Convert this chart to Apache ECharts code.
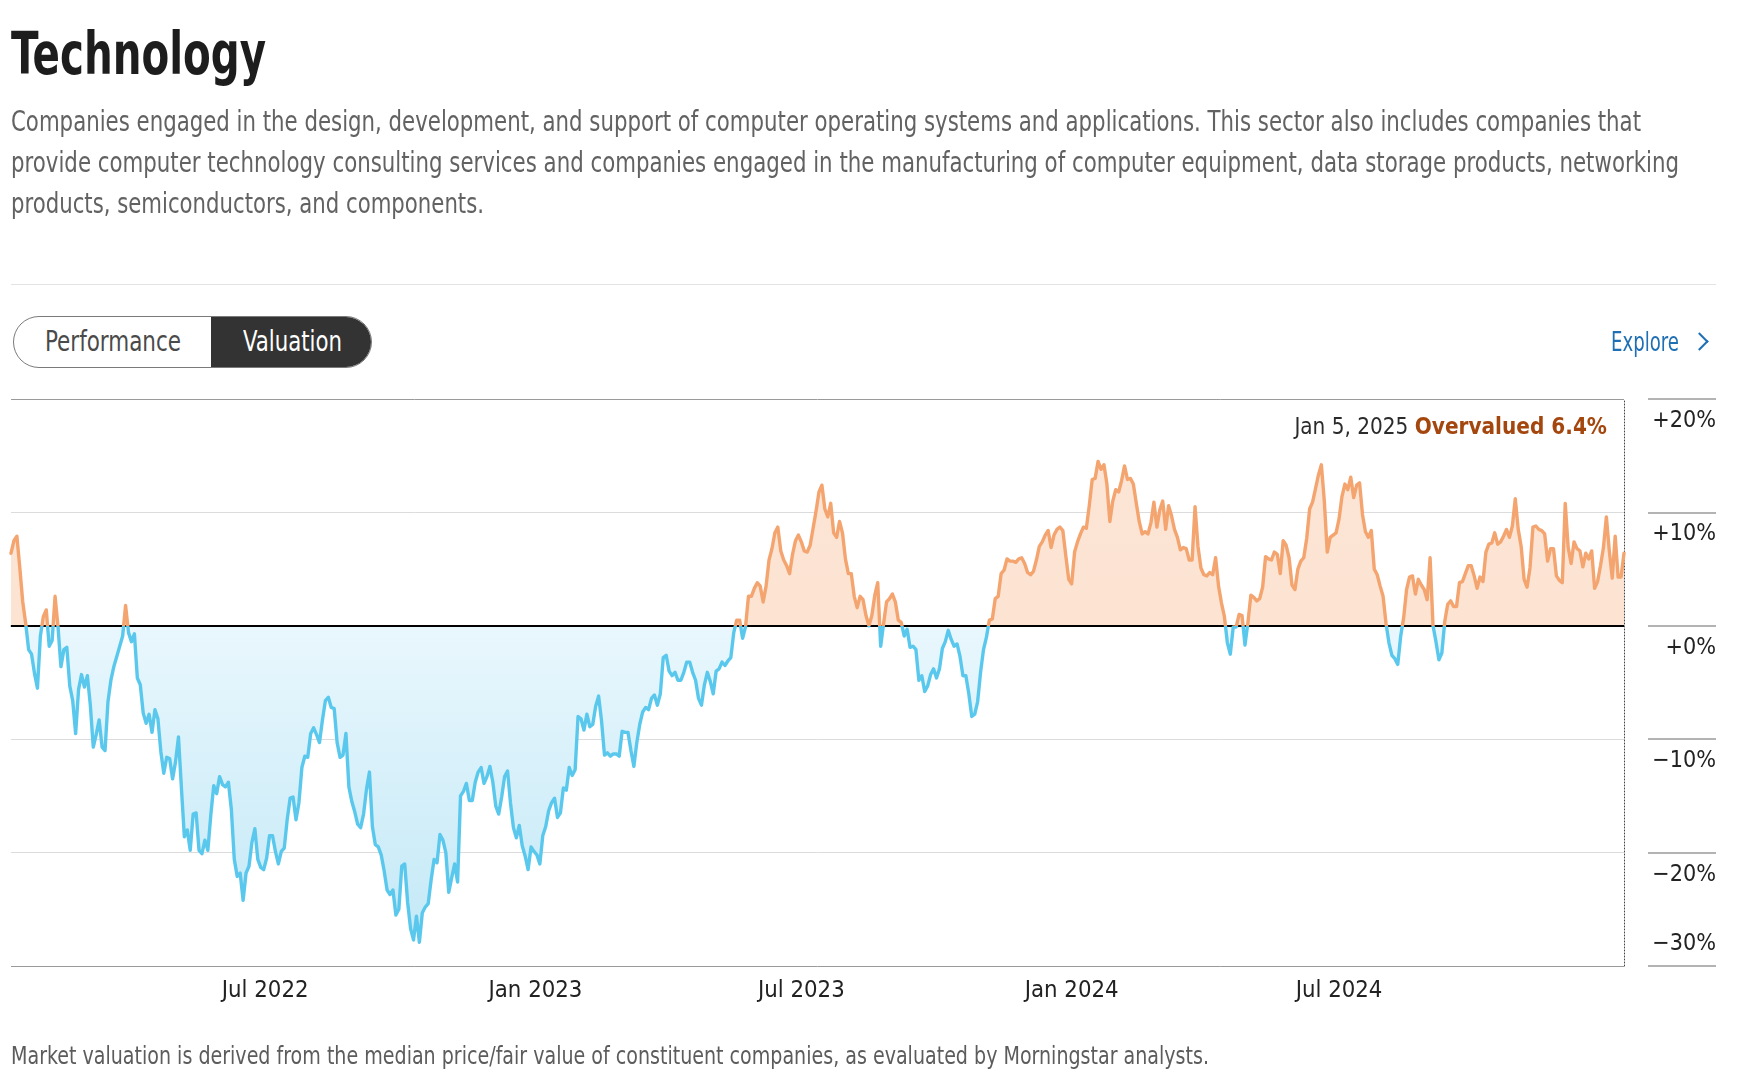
<!DOCTYPE html>
<html>
<head>
<meta charset="utf-8">
<script src="https://cdn.jsdelivr.net/npm/echarts@6/dist/echarts.min.js"></script>
<style>
html,body{margin:0;padding:0;background:#fff;}
body{width:1737px;height:1074px;position:relative;overflow:hidden;font-family:var(--ff);}
#chart{position:absolute;left:0;top:0;width:1737px;height:1074px;z-index:1;}
.t{position:absolute;white-space:nowrap;transform-origin:0 50%;z-index:2;}
#sep{position:absolute;left:11px;top:284px;width:1705px;height:1px;background:#e3e3e3;z-index:2;}
#toggle{position:absolute;left:13px;top:316px;width:357px;height:50px;border:1.5px solid #7a7a7a;border-radius:27px;overflow:hidden;z-index:2;background:#fff;}
#toggle .on{position:absolute;left:197px;top:-2px;width:164px;height:55px;background:#333;border-radius:0 27px 27px 0;}
#chev{position:absolute;left:1693px;top:335px;width:11px;height:11px;border-top:2.5px solid #1f6fb5;border-right:2.5px solid #1f6fb5;transform:rotate(45deg);z-index:2;}
</style>
</head>
<body>
<div id="chart"></div>

<div class="t" data-w="255" style="left:11px;top:25px;font-size:58px;line-height:58px;font-weight:bold;color:#1d1d1d;">Technology</div>
<div class="t" data-w="1630" style="left:11px;top:101px;font-size:28px;line-height:41px;color:#626262;">Companies engaged in the design, development, and support of computer operating systems and applications. This sector also includes companies that</div>
<div class="t" data-w="1668" style="left:11px;top:142px;font-size:28px;line-height:41px;color:#626262;">provide computer technology consulting services and companies engaged in the manufacturing of computer equipment, data storage products, networking</div>
<div class="t" data-w="473" style="left:11px;top:183px;font-size:28px;line-height:41px;color:#626262;">products, semiconductors, and components.</div>
<div id="sep"></div>

<div id="toggle"><div class="on"></div></div>
<div class="t" data-w="136" style="left:45px;top:325px;font-size:28px;line-height:34px;color:#4a4a4a;">Performance</div>
<div class="t" data-w="99" style="left:243px;top:325px;font-size:28px;line-height:34px;color:#ffffff;">Valuation</div>

<div class="t" data-w="68" style="left:1611px;top:325px;font-size:26px;line-height:34px;color:#1f6fb5;">Explore</div>
<div id="chev"></div>

<div class="t" data-w="1198" style="left:11px;top:1041px;font-size:25px;line-height:30px;color:#5c5c5c;">Market valuation is derived from the median price/fair value of constituent companies, as evaluated by Morningstar analysts.</div>

<script>
// ---------------- DATA ----------------
// Valuation premium/discount (%), one reading every 2 days starting 2022-01-09
const seriesStart = '2022-01-09';
const stepDays = 2;
const valuationPct = [
  6.4, 7.5, 7.9, 5.1, 2.1, 0.2, -2.1, -2.5, -4.2, -5.5,
  -0.9, 0.8, 1.4, -1.8, -1.3, 2.6, -0.1, -3.6, -2.1, -1.9,
  -5.3, -6.6, -9.5, -5.6, -4.3, -5.4, -4.4, -7.0, -10.7, -9.6,
  -8.3, -10.7, -11.0, -6.7, -4.8, -3.6, -2.7, -1.8, -0.9, 1.8,
  -0.6, -1.4, -0.7, -4.6, -5.2, -7.7, -8.6, -7.8, -9.4, -7.4,
  -8.2, -11.1, -13.0, -11.6, -11.7, -13.5, -12.0, -9.8, -14.3, -18.6,
  -18.0, -19.8, -16.6, -16.5, -19.8, -20.1, -18.9, -19.8, -16.7, -14.1,
  -14.8, -13.3, -14.0, -14.2, -13.8, -16.2, -20.6, -22.1, -21.8, -24.2,
  -21.8, -21.2, -19.1, -17.9, -20.6, -21.3, -21.5, -20.5, -18.5, -18.5,
  -19.9, -21.0, -19.9, -19.6, -17.1, -15.2, -15.1, -17.1, -15.6, -12.5,
  -11.5, -11.6, -9.5, -9.0, -9.6, -10.3, -8.3, -6.6,
  -6.3, -7.2, -7.3, -10.3, -11.6, -11.4, -9.5, -14.2, -15.5, -16.4,
  -17.5, -17.8, -16.6, -14.4, -12.9, -17.7, -19.3, -19.5, -20.2, -21.6,
  -23.3, -23.7, -23.3, -25.5, -25.0, -21.2, -21.0, -24.4, -26.7, -27.7,
  -25.6, -27.9, -25.3, -24.8, -24.5, -22.4, -20.6, -20.9, -18.4, -18.9,
  -20.0, -23.5, -22.2, -21.0, -22.6, -15.0, -14.6, -13.9, -15.4, -15.4,
  -13.8, -12.9, -12.5, -13.9, -13.3, -12.4, -13.8, -15.9, -16.6, -15.1,
  -13.3, -12.8, -15.6, -17.8, -18.7, -17.6, -19.4, -20.3, -21.5, -19.5,
  -19.9, -20.2, -21.0, -18.5, -17.7, -16.3, -15.6, -15.2, -16.9, -16.5,
  -14.3, -14.5, -12.5, -13.2, -12.7, -8.0, -8.2, -9.2, -7.8, -8.9,
  -8.7, -7.1, -6.2, -8.4, -11.4, -11.2, -11.5, -11.3, -11.3, -11.5,
  -9.3, -9.4, -9.4, -11.0, -12.4, -10.3, -8.7, -7.6, -7.2, -7.4,
  -6.4, -6.1, -7.0,
  -6.0, -2.8, -2.6, -4.0, -4.4, -4.1, -4.8, -4.8, -4.1, -3.2,
  -3.2, -4.1, -4.8, -6.4, -7.0, -5.2, -4.1, -4.9, -6.0, -4.0,
  -3.8, -3.2, -3.5, -3.1, -2.8, -0.6, 0.5, 0.5, -1.1, -0.1,
  2.6, 2.6, 3.3, 3.8, 3.5, 2.1, 3.5, 5.8, 6.8, 8.2,
  8.7, 6.6, 5.8, 5.3, 4.6, 6.3, 7.5, 8.0, 7.4, 6.6,
  6.5, 7.1, 8.6, 10.1, 11.8, 12.4, 10.3, 9.6, 10.8, 8.2,
  7.8, 9.2, 8.2, 5.9, 4.6, 4.6, 2.6, 1.6, 2.6, 2.3,
  0.9, 0.0, 0.9, 2.7, 3.8, -1.8, 0.2, 2.1, 2.4, 2.8,
  2.1, 0.5, 0.3, -0.9, -0.3, -1.9, -1.8, -2.1, -4.8, -4.4,
  -5.8, -5.3, -4.3, -3.8, -4.6, -3.8, -2.0, -1.4, -0.4, -1.2,
  -1.8, -1.6, -2.7, -4.4, -4.4, -6.0, -8.0, -7.8, -6.7, -4.1,
  -2.1, -1.0,
  0.5, 0.6, 2.4, 2.6, 4.6, 4.9, 5.9, 5.7, 5.7, 5.6,
  5.9, 6.0, 5.5, 4.7, 4.5, 4.8, 5.8, 7.0, 7.4, 8.0,
  8.4, 6.9, 8.0, 8.5, 8.7, 8.4, 6.2, 4.1, 3.7, 6.5,
  7.4, 8.1, 8.7, 8.6, 10.6, 12.9, 13.0, 14.5, 13.8, 14.2,
  12.5, 9.2, 11.0, 12.0, 11.8, 12.8, 14.1, 12.9, 13.0, 12.5,
  10.8, 9.2, 8.1, 8.3, 8.1, 9.1, 10.9, 8.7, 10.2, 11.0,
  8.5, 10.6, 9.7, 8.5, 7.8, 6.7, 6.9, 6.8, 5.8, 5.8,
  10.5, 7.0, 5.1, 4.5, 4.4, 4.7, 4.5, 6.0, 3.5, 2.0,
  0.8, -1.5, -2.5, -0.1, -0.1, 1.0, 0.9, -1.7, 0.3, 2.7,
  2.5, 2.2, 2.4, 3.4, 6.1, 5.9, 5.8, 6.5, 6.3, 4.6,
  7.5, 7.1, 6.0, 3.6, 3.2, 5.0,
  5.7, 6.0, 7.7, 10.3, 10.9, 12.1, 13.3, 14.2, 11.0, 6.5,
  7.8, 8.0, 8.2, 9.4, 11.4, 12.5, 12.0, 13.1, 11.3, 12.4,
  12.6, 9.8, 8.3, 7.8, 8.4, 5.0, 4.5, 3.5, 2.6, 0.2,
  -1.5, -2.6, -2.9, -3.4, -0.9, 0.7, 3.2, 4.3, 4.4, 2.8,
  4.1, 3.6, 3.2, 2.3, 6.0, 0.0, -1.4, -3.0, -2.4, 0.4,
  1.9, 2.2, 1.7, 1.7, 3.8, 3.9, 4.6, 5.3, 5.3, 4.4,
  3.3, 4.3, 3.9, 6.5, 7.2, 7.3, 8.2, 7.2, 7.4, 7.9,
  8.5, 7.8, 8.8, 11.2, 8.5, 7.0, 4.1, 3.4, 5.1, 8.7,
  8.8, 8.5, 8.4, 8.1, 5.7, 6.8, 6.8, 4.4, 4.0, 3.8,
  10.8, 6.9, 5.5, 7.4, 6.8, 6.6, 5.2, 6.4, 5.9, 6.6,
  3.3, 3.9, 5.3, 6.9, 9.6, 6.6, 4.2, 7.9, 4.3, 4.3,
  6.4
];
const axisStart = '2022-01-09';
const axisEnd = '2025-01-11';
const xTickDates = ['2022-07-01', '2023-01-01', '2023-07-01', '2024-01-01', '2024-07-01'];
const xTickLabels = ['Jul 2022', 'Jan 2023', 'Jul 2023', 'Jan 2024', 'Jul 2024'];
const yTickValues = [-30, -20, -10, 0, 10, 20];
const yTickLabels = ['\u221230%', '\u221220%', '\u221210%', '+0%', '+10%', '+20%'];
const lastDateLabel = 'Jan 5, 2025';

// ---------------- STYLE ----------------
const FONT = '"Liberation Sans Narrow","DejaVu Sans Condensed","Roboto Condensed","Liberation Sans",Arial,sans-serif';
document.documentElement.style.setProperty('--ff', FONT);
const ORANGE = '#f4a46f';
const BLUE = '#5ac8ed';

const ctx = document.createElement('canvas').getContext('2d');
function textW(t, size, weight) { ctx.font = (weight || 'normal') + ' ' + size + 'px ' + FONT; return ctx.measureText(t).width; }
function fitSize(t, target, weight) { return Math.round(1000 * target / textW(t, 100, weight)) / 10; }

// fit HTML text widths to the reference
document.querySelectorAll('[data-w]').forEach(el => {
  const w = el.getBoundingClientRect().width;
  el.style.transform = 'scaleX(' + (+el.dataset.w / w) + ')';
});

// ---------------- BUILD ----------------
const DAY = 86400000;
const parseDay = s => { const p = s.split('-').map(Number); return Date.UTC(p[0], p[1] - 1, p[2]); };
const t0 = parseDay(seriesStart);
const points = valuationPct.map((v, i) => [t0 + i * stepDays * DAY, v]);
const xTicks = xTickDates.map(parseDay);

// label sizes: between width-fit and the reference cap height
const xs = Math.min(25, (fitSize('Jul 2022', 82) + 25) / 2);
const ys = Math.min(26, (fitSize('+20%', 56) + 26) / 2);
const last = valuationPct[valuationPct.length - 1];
const statusWord = last >= 0 ? 'Overvalued' : 'Undervalued';
const headTxtA = lastDateLabel + ' ';
const headTxtB = statusWord + ' ' + Math.abs(last).toFixed(1) + '%';
const hsFit = 287 * 100 / (textW(headTxtA, 100) + textW(headTxtB, 100, 'bold'));
const hs = Math.min(26, (2 * hsFit + 26) / 3);

const yMin = yTickValues[0], yMax = yTickValues[yTickValues.length - 1];

const chart = echarts.init(document.getElementById('chart'), null, { renderer: 'canvas' });
const option = {
  animation: false,
  textStyle: { fontFamily: FONT },
  title: {
    text: '{d|' + headTxtA + '}{v|' + headTxtB + '}',
    right: 130, top: 413, padding: 0,
    textStyle: {
      fontWeight: 'normal',
      rich: {
        d: { fontSize: hs, color: '#2b2b2b', fontWeight: 'normal', fontFamily: FONT, lineHeight: 30 },
        v: { fontSize: hs, color: '#a4470e', fontWeight: 'bold', fontFamily: FONT, lineHeight: 30 }
      }
    }
  },
  grid: { left: 11, right: 113, top: 399, bottom: 108 },
  xAxis: {
    type: 'value',
    min: parseDay(axisStart), max: parseDay(axisEnd),
    axisLine: { show: true, lineStyle: { color: '#9a9a9a', width: 1.5 } },
    axisTick: { show: false },
    splitLine: { show: false },
    axisLabel: {
      customValues: xTicks,
      formatter: v => { const i = xTicks.indexOf(v); return i >= 0 ? xTickLabels[i] : ''; },
      color: '#222', fontSize: xs, fontFamily: FONT, margin: 13, hideOverlap: false
    }
  },
  yAxis: [
    {
      type: 'value', position: 'right', offset: 24,
      min: yMin, max: yMax, interval: 10,
      axisLine: { show: false },
      axisTick: { show: true, length: 68, lineStyle: { color: '#9a9a9a', width: 1.5 } },
      axisLabel: {
        margin: 68, align: 'right', color: '#222', fontSize: ys, fontFamily: FONT, lineHeight: 44,
        formatter: v => {
          const i = yTickValues.indexOf(v);
          const s = i >= 0 ? yTickLabels[i] : '';
          return v === yMin ? s + '\n' : '\n' + s;
        }
      },
      splitLine: { show: true, lineStyle: { color: ['#9a9a9a', '#dcdcdc', '#dcdcdc', '#dcdcdc', '#dcdcdc', '#9a9a9a'], width: 1 } }
    },
    {
      type: 'value', position: 'right', offset: 0,
      min: yMin, max: yMax, interval: 10,
      axisLine: { show: true, lineStyle: { color: '#444', type: [1, 2], width: 1 } },
      axisTick: { show: false }, axisLabel: { show: false }, splitLine: { show: false }
    }
  ],
  series: [
    {
      type: 'line', data: points, yAxisIndex: 0, symbol: 'none', silent: true, z: 1,
      lineStyle: { width: 0, opacity: 0 },
      areaStyle: { color: '#fce3d2', opacity: 1, origin: 'auto' }
    },
    {
      type: 'line', data: points, yAxisIndex: 0, symbol: 'none', silent: true, z: 3,
      lineStyle: { width: 3.4, join: 'round', cap: 'round', color: ORANGE },
      markLine: {
        silent: true, symbol: ['none', 'none'], label: { show: false }, z: 2,
        lineStyle: { color: '#000', width: 2, type: 'solid' },
        data: [{ yAxis: 0 }]
      }
    }
  ]
};
chart.setOption(option);

// colour split at the zero line, in pixel space taken from the axis scale
const pTop = chart.convertToPixel({ yAxisIndex: 0 }, yMax);
const pZero = chart.convertToPixel({ yAxisIndex: 0 }, 0);
const pBot = chart.convertToPixel({ yAxisIndex: 0 }, yMin);
const f = (pZero - pTop) / (pBot - pTop);
const strokeGrad = new echarts.graphic.LinearGradient(0, pTop, 0, pBot, [
  { offset: 0, color: ORANGE }, { offset: f, color: ORANGE },
  { offset: f, color: BLUE }, { offset: 1, color: BLUE }
], true);
const fillGrad = new echarts.graphic.LinearGradient(0, pTop, 0, pBot, [
  { offset: 0, color: '#fde6d7' }, { offset: f, color: '#fce3d2' },
  { offset: f, color: '#e9f7fd' }, { offset: 0.92, color: '#c6eaf7' }, { offset: 1, color: '#c2e8f6' }
], true);
chart.setOption({
  series: [
    { areaStyle: { color: fillGrad } },
    { lineStyle: { color: strokeGrad } }
  ]
});
</script>
</body>
</html>
